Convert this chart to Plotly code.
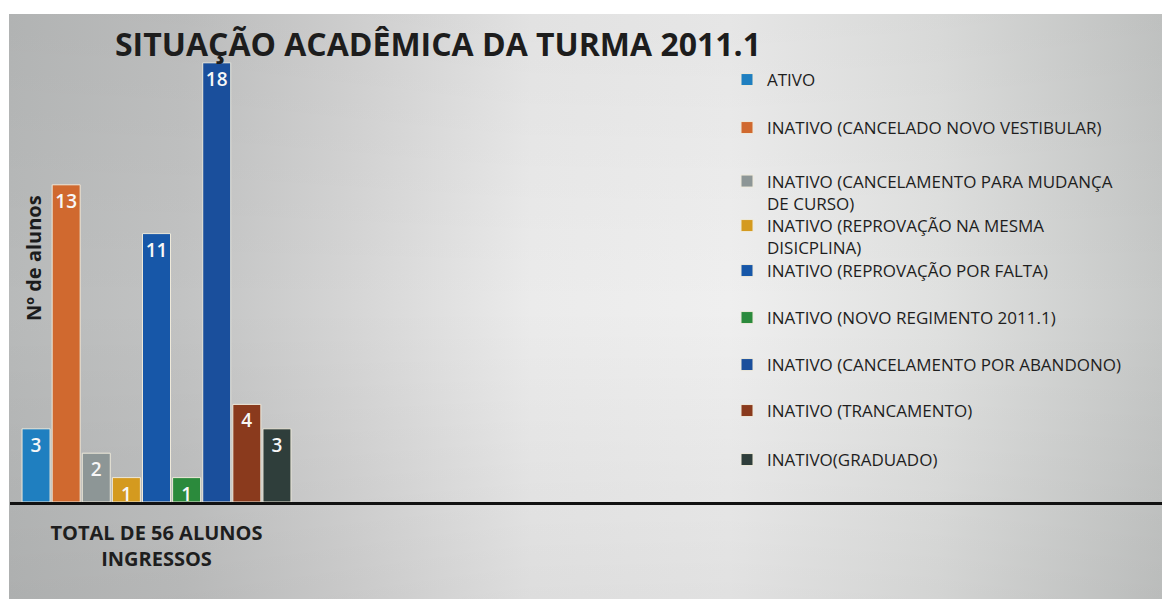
import base64
import plotly.graph_objects as go

# ---------------- data ----------------
categories = ["TOTAL DE 56 ALUNOS<br>INGRESSOS"]
series_names = [
    "ATIVO",
    "INATIVO (CANCELADO NOVO VESTIBULAR)",
    "INATIVO (CANCELAMENTO PARA MUDANÇA<br>DE CURSO)",
    "INATIVO (REPROVAÇÃO NA MESMA<br>DISICPLINA)",
    "INATIVO (REPROVAÇÃO POR FALTA)",
    "INATIVO (NOVO REGIMENTO 2011.1)",
    "INATIVO (CANCELAMENTO POR ABANDONO)",
    "INATIVO (TRANCAMENTO)",
    "INATIVO(GRADUADO)",
]
series_values = [3, 13, 2, 1, 11, 1, 18, 4, 3]
title_text = "SITUAÇÃO ACADÊMICA DA TURMA 2011.1"
y_title = "Nº de alunos"

# ---------------- style ----------------
series_colors = ["#1f7fc0", "#d0692f", "#8d9696", "#d49a1f", "#1757a8",
                 "#2b8a3c", "#1a4f9c", "#8a3a1d", "#2f3e3b"]
OFF = 8                      # page body margin
W, H = 1170 - OFF, 599 - OFF
legend_rows_px = [80, 128, 192.5, 237, 271, 318, 365, 411, 460]


def fx(px):
    return (px - OFF) / W


def fy(px):
    return (H - (px - OFF)) / H


svg = (
    '<svg xmlns="http://www.w3.org/2000/svg" width="1161" height="585">'
    '<defs><linearGradient id="g" x1="0" y1="0" x2="1" y2="0">'
    '<stop offset="0" stop-color="#b8baba"/>'
    '<stop offset="0.15" stop-color="#c2c3c3"/>'
    '<stop offset="0.3" stop-color="#d6d6d6"/>'
    '<stop offset="0.45" stop-color="#ebebeb"/>'
    '<stop offset="0.62" stop-color="#efefef"/>'
    '<stop offset="0.8" stop-color="#e0e1e0"/>'
    '<stop offset="1" stop-color="#c5c7c6"/>'
    '</linearGradient>'
    '<linearGradient id="v" x1="0" y1="0" x2="0" y2="1">'
    '<stop offset="0" stop-color="#000" stop-opacity="0.04"/>'
    '<stop offset="0.5" stop-color="#000" stop-opacity="0"/>'
    '<stop offset="1" stop-color="#000" stop-opacity="0.06"/>'
    '</linearGradient></defs>'
    '<rect width="1161" height="585" fill="url(#g)"/>'
    '<rect width="1161" height="585" fill="url(#v)"/>'
    '</svg>'
)
bg_uri = "data:image/svg+xml;base64," + base64.b64encode(svg.encode()).decode()

fig = go.Figure()
for i, (name, val, col) in enumerate(zip(series_names, series_values, series_colors)):
    fig.add_trace(go.Bar(
        x=categories,
        y=[val],
        name=name,
        showlegend=True,
        marker=dict(color=col, line=dict(color="#eee9da", width=1)),
        text=[str(val)],
        textposition="inside",
        insidetextanchor="end",
        textangle=0,
        constraintext="none",
        textfont=dict(family="Open Sans", size=19, color="#f7f7f7", weight=600),
        legend="legend" if i == 0 else f"legend{i + 1}",
    ))

layout_legends = {}
for i, row in enumerate(legend_rows_px):
    key = "legend" if i == 0 else f"legend{i + 1}"
    layout_legends[key] = dict(
        x=fx(727), xanchor="left",
        y=fy(row), yanchor="middle",
        bgcolor="rgba(0,0,0,0)",
        font=dict(family="Open Sans", size=17, color="#1e1e1e"),
        valign="top",
        itemwidth=30,
    )

fig.update_layout(
    width=W, height=H,
    showlegend=True,
    margin=dict(l=0, r=0, t=0, b=0),
    paper_bgcolor="white",
    plot_bgcolor="rgba(0,0,0,0)",
    barmode="group",
    bargap=0.075,
    bargroupgap=0.07,
    title=dict(
        text=title_text,
        x=fx(438), xanchor="center", xref="paper",
        y=fy(45), yanchor="middle", yref="paper",
        font=dict(family="Open Sans", size=32, color="#1d1d1d", weight=700),
    ),
    xaxis=dict(
        type="category",
        domain=[fx(10), 1],
        range=[-0.5, 3.459],
        showline=True, linecolor="#111111", linewidth=3,
        ticks="outside", ticklen=11, tickcolor="rgba(0,0,0,0)",
        tickfont=dict(family="Open Sans", size=20, color="#1e1e1e", weight=700),
        showgrid=False, zeroline=False,
    ),
    yaxis=dict(
        domain=[fy(502), fy(38.4)],
        range=[0, 19],
        showticklabels=False, showgrid=False, zeroline=False, showline=False,
    ),
    annotations=[dict(
        text=y_title, x=fx(33), y=fy(258), xref="paper", yref="paper",
        textangle=-90, showarrow=False, xanchor="center", yanchor="middle",
        font=dict(family="Open Sans", size=20, color="#1c1c1c", weight=700),
    )],
    images=[dict(
        source=bg_uri, xref="paper", yref="paper",
        x=fx(9), y=fy(14), sizex=1 - fx(9), sizey=fy(14),
        xanchor="left", yanchor="top", sizing="stretch", layer="below",
    )],
    **layout_legends,
)

fig.write_html("out.html")
